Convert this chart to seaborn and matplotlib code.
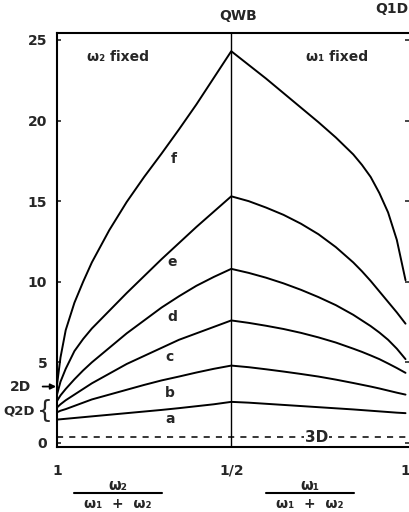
import numpy as np
import pandas as pd
import matplotlib
matplotlib.use("Agg")
import matplotlib.pyplot as plt
import seaborn as sns

# ---- data ----
# position along the composite x axis: 0 -> "1" (w2 fixed side), 1 -> "1/2", 2 -> "1" (w1 fixed side)
t_pts = [0, 0.02, 0.05, 0.1, 0.15, 0.2, 0.3, 0.4, 0.5, 0.6, 0.7, 0.8, 0.9, 1.0,
         1.1, 1.2, 1.3, 1.4, 1.5, 1.6, 1.7, 1.75, 1.8, 1.85, 1.9, 1.95, 2.0]
curve_f = [3.6, 5.3, 7.0, 8.7, 10.0, 11.2, 13.2, 14.95, 16.5, 17.95, 19.45, 21.0, 22.65, 24.3,
           23.45, 22.6, 21.7, 20.8, 19.9, 18.95, 17.9, 17.25, 16.5, 15.5, 14.3, 12.6, 10.1]
curve_e = [3.0, 3.8, 4.6, 5.7, 6.45, 7.1, 8.2, 9.3, 10.35, 11.4, 12.4, 13.4, 14.35, 15.3,
           15.0, 14.6, 14.15, 13.6, 12.95, 12.15, 11.2, 10.65, 10.05, 9.4, 8.75, 8.1, 7.4]
curve_d = [2.6, 2.95, 3.35, 3.95, 4.5, 5.0, 5.9, 6.8, 7.6, 8.4, 9.1, 9.75, 10.3, 10.8,
           10.55, 10.25, 9.9, 9.5, 9.05, 8.55, 7.95, 7.6, 7.25, 6.85, 6.4, 5.85, 5.2]
curve_c = [2.2, 2.4, 2.65, 3.0, 3.35, 3.7, 4.3, 4.9, 5.4, 5.9, 6.4, 6.8, 7.2, 7.6,
           7.45, 7.27, 7.07, 6.83, 6.55, 6.23, 5.85, 5.65, 5.43, 5.2, 4.93, 4.65, 4.35]
curve_b = [1.9, 2.0, 2.1, 2.3, 2.5, 2.7, 3.0, 3.3, 3.6, 3.88, 4.12, 4.37, 4.6, 4.8,
           4.7, 4.57, 4.43, 4.28, 4.12, 3.93, 3.72, 3.61, 3.5, 3.38, 3.25, 3.12, 3.0]
curve_a = [1.45, 1.47, 1.5, 1.55, 1.6, 1.65, 1.75, 1.85, 1.95, 2.05, 2.16, 2.28, 2.4, 2.55,
           2.5, 2.43, 2.36, 2.29, 2.22, 2.15, 2.08, 2.04, 2.0, 1.96, 1.92, 1.88, 1.85]
curve_names = ["a", "b", "c", "d", "e", "f"]
line_3d_t = [0.0, 2.05]
line_3d_val = [0.35, 0.35]
y_ticks = [0, 5, 10, 15, 20, 25]
x_ticks = [0, 1, 2]
x_ticklabels = ["1", "1/2", "1"]

curves = dict(zip(curve_names, [curve_a, curve_b, curve_c, curve_d, curve_e, curve_f]))
df = pd.DataFrame([(n, t, v) for n, vals in curves.items() for t, v in zip(t_pts, vals)],
                  columns=["curve", "t", "value"])
df3 = pd.DataFrame({"t": line_3d_t, "value": line_3d_val})

# ---- figure ----
sns.set_style("white")
plt.rcParams["font.family"] = ["DejaVu Sans"]
W, H = 409, 512
fig = plt.figure(figsize=(W / 100, H / 100), dpi=100)
ax = fig.add_axes([57 / W, 1 - 447 / H, 352 / W, 414 / H])

sns.lineplot(data=df, x="t", y="value", hue="curve",
             palette={n: "black" for n in curve_names}, linewidth=1.4,
             legend=False, ax=ax, sort=False)
sns.lineplot(data=df3, x="t", y="value", color="black", linewidth=1.1,
             linestyle=(0, (4, 4)), ax=ax)
ax.axvline(1.0, color="black", linewidth=1.0)

ax.set_xlim(0, 2.02)
ax.set_ylim(-0.25, 25.43)
ax.set_xlabel("")
ax.set_ylabel("")
ax.set_yticks(y_ticks)
ax.set_yticklabels([str(v) for v in y_ticks], fontsize=10, fontweight="bold")
ax.set_xticks(x_ticks)
ax.set_xticklabels(x_ticklabels, fontsize=10, fontweight="bold")
ax.tick_params(axis="y", direction="in", length=3, width=1.2, pad=7, left=True, right=True)
ax.tick_params(axis="x", length=0, pad=12)
for side in ["left", "bottom", "top"]:
    ax.spines[side].set_linewidth(1.5)
    ax.spines[side].set_color("black")
ax.spines["right"].set_visible(False)

# 3D label on the dashed line
ax.text(1.49, 0.35, "3D", fontsize=11, fontweight="bold", ha="center", va="center",
        bbox=dict(facecolor="white", edgecolor="none", pad=0.5))

# curve letters
lbl_pos = {"a": (0.648, 1.49), "b": (0.648, 3.1), "c": (0.648, 5.33),
           "d": (0.66, 7.8), "e": (0.66, 11.2), "f": (0.67, 17.6)}
for n, (x, y) in lbl_pos.items():
    ax.text(x, y, n, fontsize=10, fontweight="bold", ha="center", va="center")

ax.text(0.35, 23.95, "ω₂ fixed", fontsize=10, fontweight="bold", ha="center", va="center")
ax.text(1.61, 23.95, "ω₁ fixed", fontsize=10, fontweight="bold", ha="center", va="center")
ax.text(1.04, 26.5, "QWB", fontsize=10, fontweight="bold", ha="center", va="center", clip_on=False)
ax.text(1.92, 26.9, "Q1D", fontsize=10, fontweight="bold", ha="center", va="center", clip_on=False)

ax.annotate("2D", xy=(-0.005, 3.5), xytext=(-0.21, 3.5), xycoords="data", textcoords="data",
            fontsize=10, fontweight="bold", ha="center", va="center", annotation_clip=False,
            arrowprops=dict(arrowstyle="-|>", color="black", lw=1.3, mutation_scale=8,
                            shrinkA=6, shrinkB=0))
ax.text(-0.215, 2.0, "Q2D", fontsize=9.5, fontweight="bold", ha="center", va="center", clip_on=False)
ax.text(-0.072, 2.0, "{", fontsize=18, ha="center", va="center", clip_on=False)

# fraction labels under the axis
for cx, num in [(118, "ω₂"), (310, "ω₁")]:
    fig.text(cx / W, 1 - 486 / H, num, fontsize=10.5, fontweight="bold", ha="center", va="center")
    fig.add_artist(plt.Line2D([(cx - 44) / W, (cx + 44) / W], [1 - 493 / H, 1 - 493 / H],
                              color="black", lw=1.5, transform=fig.transFigure))
    fig.text(cx / W, 1 - 504 / H, "ω₁  +  ω₂", fontsize=10, fontweight="bold", ha="center", va="center")

fig.savefig("out.png", dpi=100)
